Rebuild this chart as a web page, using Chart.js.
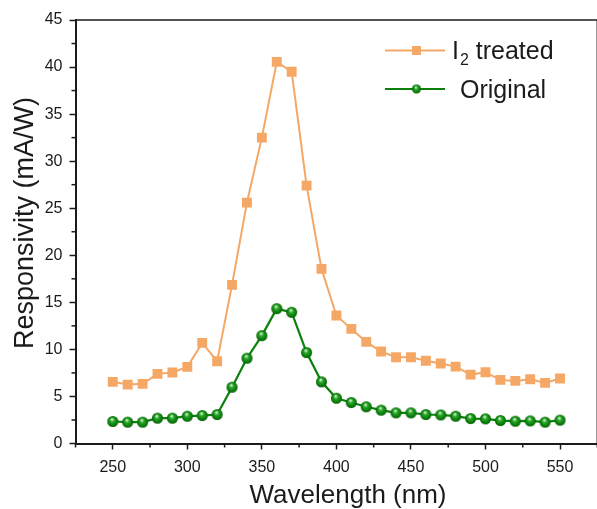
<!DOCTYPE html>
<html>
<head>
<meta charset="utf-8">
<script src="https://cdn.jsdelivr.net/npm/chart.js@4"></script>
<style>
	html, body { margin: 0; padding: 0; background: #fff; overflow: hidden; }
	#wrap { width: 605px; height: 509px; }
</style>
</head>
<body>
<div id="wrap"><canvas id="resp-1" width="605" height="509"></canvas></div>
<script>
// wavelength in nm
const wavelengths = [250, 260, 270, 280, 290, 300, 310, 320, 330, 340, 350, 360, 370, 380, 390, 400,
	410, 420, 430, 440, 450, 460, 470, 480, 490, 500, 510, 520, 530, 540, 550];

// responsivity in mA/W
const treatedResp = [6.55, 6.26, 6.34, 7.4, 7.54, 8.14, 10.69, 8.74, 16.85, 25.6, 32.5, 40.55, 39.5, 27.4, 18.55, 13.6,
	12.18, 10.8, 9.77, 9.16, 9.16, 8.8, 8.5, 8.17, 7.32, 7.57, 6.76, 6.65, 6.83, 6.44, 6.9];
const originalResp = [2.34, 2.27, 2.27, 2.69, 2.69, 2.9, 2.97, 3.08, 5.98, 9.06, 11.46, 14.33, 13.94, 9.66, 6.55, 4.81,
	4.35, 3.9, 3.54, 3.26, 3.26, 3.08, 3.04, 2.9, 2.65, 2.62, 2.44, 2.37, 2.4, 2.27, 2.48];

const xTicks = [250, 300, 350, 400, 450, 500, 550];
const xMinor = [225, 275, 325, 375, 425, 475, 525, 575];
const yTicks = [0, 5, 10, 15, 20, 25, 30, 35, 40, 45];
const yMinor = [2.5, 7.5, 12.5, 17.5, 22.5, 27.5, 32.5, 37.5, 42.5];

const seriesNames = ["treated", "Original"];
const xTitle = "Wavelength (nm)";
const yTitle = "Responsivity (mA/W)";

const orange = "#f5a766";
const green = "#0b800b";
const ink = "#1b1b1b";
const fontFamily = "'Liberation Sans', Arial, sans-serif";

// shaded green ball used as the marker of the second series
function makeBall(r) {
	const size = Math.ceil(r * 2 + 2);
	const c = document.createElement("canvas");
	c.width = size;
	c.height = size;
	const g = c.getContext("2d");
	const cx = size / 2;
	const grad = g.createRadialGradient(cx - r * 0.15, cx - r * 0.4, r * 0.1, cx, cx, r);
	grad.addColorStop(0, "#d0f2d0");
	grad.addColorStop(0.3, "#2ea82e");
	grad.addColorStop(0.75, "#0a800a");
	grad.addColorStop(1, "#045a04");
	g.fillStyle = grad;
	g.beginPath();
	g.arc(cx, cx, r, 0, Math.PI * 2);
	g.fill();
	return c;
}
const ball = makeBall(5.5);
const legendBall = makeBall(4.5);

function toPoints(xs, ys) {
	return xs.map((x, i) => ({ x: x, y: ys[i] }));
}

// minor ticks, frame, axis titles and the in-plot legend
const extras = {
	id: "extras",
	afterDraw(chart) {
		const ctx = chart.ctx;
		const area = chart.chartArea;
		const xs = chart.scales.x;
		const ys = chart.scales.y;
		ctx.save();
		ctx.strokeStyle = ink;
		ctx.lineWidth = 1.5;
		xMinor.forEach((v) => {
			const px = xs.getPixelForValue(v);
			ctx.beginPath();
			ctx.moveTo(px, area.bottom);
			ctx.lineTo(px, area.bottom + 4);
			ctx.stroke();
		});
		yMinor.forEach((v) => {
			const py = ys.getPixelForValue(v);
			ctx.beginPath();
			ctx.moveTo(area.left, py);
			ctx.lineTo(area.left - 4, py);
			ctx.stroke();
		});
		ctx.beginPath();
		ctx.moveTo(area.left, area.top);
		ctx.lineTo(area.right, area.top);
		ctx.lineTo(area.right, area.bottom);
		ctx.stroke();

		// axis titles
		ctx.fillStyle = ink;
		ctx.textBaseline = "alphabetic";
		ctx.textAlign = "center";
		ctx.font = "26px " + fontFamily;
		ctx.fillText(xTitle, 348, 503);
		ctx.save();
		ctx.translate(33, 223);
		ctx.rotate(-Math.PI / 2);
		ctx.font = "27px " + fontFamily;
		ctx.fillText(yTitle, 0, 0);
		ctx.restore();

		// legend
		const lx0 = 385, lx1 = 445, mx = 416.5;
		const row1 = 50.5, row2 = 89;
		ctx.lineWidth = 2;
		ctx.strokeStyle = orange;
		ctx.beginPath();
		ctx.moveTo(lx0, row1);
		ctx.lineTo(lx1, row1);
		ctx.stroke();
		ctx.fillStyle = orange;
		ctx.fillRect(mx - 4.5, row1 - 4.5, 9, 9);
		ctx.strokeStyle = green;
		ctx.beginPath();
		ctx.moveTo(lx0, row2);
		ctx.lineTo(lx1, row2);
		ctx.stroke();
		ctx.drawImage(legendBall, mx - legendBall.width / 2, row2 - legendBall.height / 2);

		ctx.fillStyle = ink;
		ctx.textAlign = "left";
		ctx.font = "25px " + fontFamily;
		ctx.fillText("I", 452, 58.5);
		const iw = ctx.measureText("I").width;
		ctx.font = "16px " + fontFamily;
		ctx.fillText("2", 452 + iw + 1, 65);
		const sw = ctx.measureText("2").width;
		ctx.font = "25px " + fontFamily;
		ctx.fillText(" " + seriesNames[0], 452 + iw + 1 + sw, 58.5);
		ctx.fillText(seriesNames[1], 460, 97.5);
		ctx.restore();
	},
};

const config_r1 = {
	type: "line",
	data: {
		datasets: [
			{
				label: "I2 " + seriesNames[0],
				data: toPoints(wavelengths, treatedResp),
				borderColor: orange,
				backgroundColor: orange,
				borderWidth: 2,
				pointStyle: "rect",
				pointRadius: 7,
				pointBorderWidth: 0,
				tension: 0,
			},
			{
				label: seriesNames[1],
				data: toPoints(wavelengths, originalResp),
				borderColor: green,
				backgroundColor: green,
				borderWidth: 2.2,
				pointStyle: ball,
				pointRadius: 5.5,
				tension: 0,
			},
		],
	},
	options: {
		responsive: false,
		animation: false,
		layout: { padding: { top: 20, right: 4, left: 0, bottom: 0 } },
		plugins: {
			legend: { display: false },
			tooltip: { enabled: false },
		},
		scales: {
			x: {
				type: "linear",
				min: 225,
				max: 575,
				afterFit(scale) {
					scale.height = 65.5;
				},
				afterBuildTicks(scale) {
					scale.ticks = xTicks.map((v) => ({ value: v }));
				},
				grid: {
					drawOnChartArea: false,
					tickLength: 6,
					tickWidth: 1.5,
					tickColor: ink,
				},
				border: { display: true, color: ink, width: 2 },
				ticks: {
					color: ink,
					padding: 8,
					maxRotation: 0,
					font: { family: fontFamily, size: 16 },
				},
			},
			y: {
				type: "linear",
				min: 0,
				max: 45,
				afterFit(scale) {
					scale.width = 75.5;
				},
				afterBuildTicks(scale) {
					scale.ticks = yTicks.map((v) => ({ value: v }));
				},
				grid: {
					drawOnChartArea: false,
					tickLength: 6,
					tickWidth: 1.5,
					tickColor: ink,
				},
				border: { display: true, color: ink, width: 2 },
				ticks: {
					color: ink,
					padding: 7,
					font: { family: fontFamily, size: 16 },
				},
			},
		},
	},
	plugins: [extras],
};

new Chart(document.getElementById("resp-1"), config_r1);
</script>
</body>
</html>
